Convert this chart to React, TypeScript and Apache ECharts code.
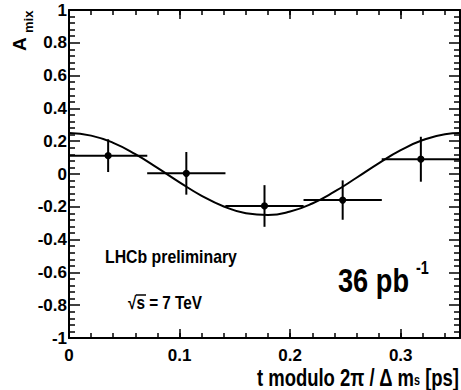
import React, { useEffect, useRef } from "react";
import * as echarts from "echarts";

// ---- data ----
const X_MAX = 0.3536; // 2π / Δm_s
const binCenters = [0.0354, 0.1061, 0.1768, 0.2475, 0.3182];
const binHalfWidths = [0.0354, 0.0354, 0.0354, 0.0354, 0.0354];
const asymmetry = [0.112, 0.004, -0.195, -0.159, 0.09];
const asymmetryErr = [0.1, 0.13, 0.127, 0.12, 0.137];

// fitted curve, points
const curveT = [0, 0.02, 0.04, 0.06, 0.08, 0.1, 0.12, 0.14, 0.16, 0.18, 0.2, 0.22, 0.24, 0.26, 0.28, 0.3, 0.32, 0.34, 0.3536];
const curveA = [0.25, 0.234, 0.19, 0.121, 0.037, -0.051, -0.133, -0.198, -0.239, -0.25, -0.229, -0.18, -0.108, -0.023, 0.065, 0.145, 0.207, 0.243, 0.25];

const FONT = "'Liberation Sans', Arial, Helvetica, sans-serif";

export default function App() {
  const ref = useRef<HTMLDivElement>(null);

  useEffect(() => {
    if (!ref.current) return;
    const chart = echarts.init(ref.current, null, { renderer: "svg" });

    const tickStyle = { color: "#000", width: 1.5 };
    const lineStyle = { color: "#000", width: 2 };
    const labelStyle = { color: "#000", fontSize: 17, fontWeight: "bold" as const, fontFamily: FONT };

    const xBase = { type: "value" as const, min: 0, max: X_MAX, splitLine: { show: false } };
    const yBase = { type: "value" as const, min: -1, max: 1, interval: 0.2, splitLine: { show: false }, minorSplitLine: { show: false } };

    const errData = binCenters.map((x, i) => [x, asymmetry[i], binHalfWidths[i], asymmetryErr[i]]);

    chart.setOption({
      animation: false,
      backgroundColor: "#fff",
      grid: { left: 69, right: 1, top: 10, bottom: 52, containLabel: false, outerBoundsMode: "none" },
      xAxis: [
        {
          ...xBase,
          position: "bottom",
          interval: 0.1,
          axisLine: { show: true, onZero: false, lineStyle },
          axisTick: { show: true, inside: true, length: 9, lineStyle: tickStyle },
          axisLabel: {
            ...labelStyle,
            margin: 9,
            formatter: (v: number) => (v > 0.35 ? "" : String(Math.round(v * 10) / 10)),
          },
        },
        {
          ...xBase,
          position: "bottom",
          interval: 0.02,
          axisLine: { show: false, onZero: false },
          axisTick: { show: true, inside: true, length: 5, lineStyle: tickStyle },
          axisLabel: { show: false },
        },
        {
          ...xBase,
          position: "top",
          interval: 0.1,
          axisLine: { show: true, onZero: false, lineStyle },
          axisTick: { show: true, inside: true, length: 9, lineStyle: tickStyle },
          axisLabel: { show: false },
        },
        {
          ...xBase,
          position: "top",
          interval: 0.02,
          axisLine: { show: false, onZero: false },
          axisTick: { show: true, inside: true, length: 5, lineStyle: tickStyle },
          axisLabel: { show: false },
        },
      ],
      yAxis: [
        {
          ...yBase,
          position: "left",
          axisLine: { show: true, onZero: false, lineStyle },
          axisTick: { show: true, inside: true, length: 11, lineStyle: tickStyle },
          minorTick: { show: true, splitNumber: 5, length: 6, lineStyle: tickStyle },
          axisLabel: { ...labelStyle, margin: 2 },
        },
        {
          ...yBase,
          position: "right",
          axisLine: { show: true, onZero: false, lineStyle },
          axisTick: { show: true, inside: true, length: 11, lineStyle: tickStyle },
          minorTick: { show: true, splitNumber: 5, length: 6, lineStyle: tickStyle },
          axisLabel: { show: false },
        },
      ],
      series: [
        {
          type: "line",
          xAxisIndex: 0,
          yAxisIndex: 0,
          data: curveT.map((t, i) => [t, curveA[i]]),
          smooth: true,
          showSymbol: false,
          symbol: "none",
          lineStyle: { color: "#000", width: 2 },
          silent: true,
        },
        {
          type: "custom",
          xAxisIndex: 0,
          yAxisIndex: 0,
          data: errData,
          renderItem: (params: any, api: any) => {
            const x = api.value(0);
            const y = api.value(1);
            const xe = api.value(2);
            const ye = api.value(3);
            const c = api.coord([x, y]);
            const l = api.coord([x - xe, y]);
            const r = api.coord([x + xe, y]);
            const t = api.coord([x, y + ye]);
            const b = api.coord([x, y - ye]);
            const st = { stroke: "#000", lineWidth: 2 };
            return {
              type: "group",
              children: [
                { type: "line", shape: { x1: l[0], y1: l[1], x2: r[0], y2: r[1] }, style: st },
                { type: "line", shape: { x1: t[0], y1: t[1], x2: b[0], y2: b[1] }, style: st },
                { type: "circle", shape: { cx: c[0], cy: c[1], r: 3.6 }, style: { fill: "#000" } },
              ],
            };
          },
        },
      ],
      graphic: [
        // y-axis title A_mix (rotated)
        {
          type: "group",
          x: 19,
          y: 51,
          rotation: Math.PI / 2,
          children: [
            {
              type: "text",
              x: 0,
              y: 0,
              style: { text: "A", fontSize: 19, fontWeight: "bold", fontFamily: FONT, fill: "#000", align: "left", verticalAlign: "middle" },
            },
            {
              type: "text",
              x: 18,
              y: 9,
              style: { text: "mix", fontSize: 13, fontWeight: "bold", fontFamily: FONT, fill: "#000", align: "left", verticalAlign: "middle" },
            },
          ],
        },
        // x-axis title
        {
          type: "text",
          x: 459,
          y: 378,
          scaleX: 0.77,
          style: {
            text: "{n|t modulo 2π / Δ m}{s|s}{n| [ps]}",
            align: "right",
            verticalAlign: "middle",
            fill: "#000",
            rich: {
              n: { fontSize: 24, lineHeight: 20, fontWeight: "bold", fontFamily: FONT, fill: "#000", verticalAlign: "middle" },
              s: { fontSize: 14, lineHeight: 12, fontWeight: "bold", fontFamily: FONT, fill: "#000", verticalAlign: "bottom" },
            },
          },
        },
        {
          type: "text",
          x: 105,
          y: 257,
          scaleX: 0.88,
          style: { text: "LHCb preliminary", fontSize: 18, fontWeight: "bold", fontFamily: FONT, fill: "#000", align: "left", verticalAlign: "middle" },
        },
        {
          type: "text",
          x: 128,
          y: 303,
          scaleX: 0.85,
          style: { text: "√s = 7 TeV", fontSize: 18, fontWeight: "bold", fontFamily: FONT, fill: "#000", align: "left", verticalAlign: "middle" },
        },
        {
          type: "line",
          shape: { x1: 136, y1: 295, x2: 146, y2: 295 },
          style: { stroke: "#000", lineWidth: 1.5 },
        },
        {
          type: "text",
          x: 338,
          y: 280,
          scaleX: 0.8,
          style: { text: "36 pb", fontSize: 34, fontWeight: "bold", fontFamily: FONT, fill: "#000", align: "left", verticalAlign: "middle" },
        },
        {
          type: "text",
          x: 416,
          y: 267,
          scaleX: 0.8,
          style: { text: "-1", fontSize: 18, fontWeight: "bold", fontFamily: FONT, fill: "#000", align: "left", verticalAlign: "middle" },
        },
      ],
    });

    return () => chart.dispose();
  }, []);

  return (
    <div
      ref={ref}
      style={{ position: "fixed", left: 0, top: 0, width: 461, height: 390, background: "#fff" }}
    />
  );
}
